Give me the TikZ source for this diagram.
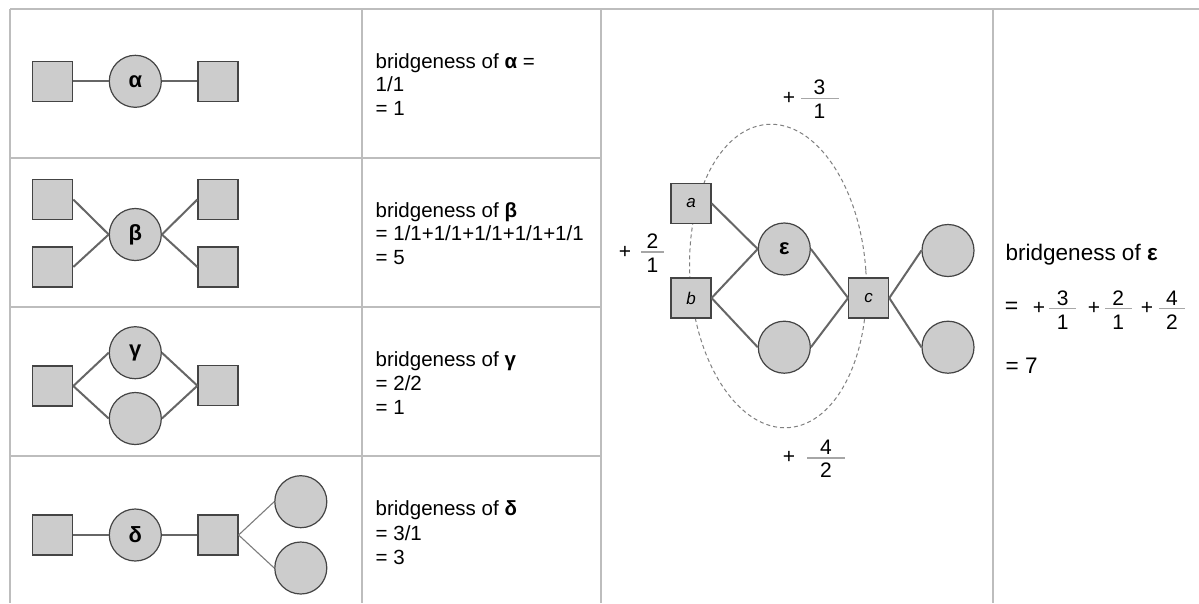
\documentclass[tikz,border=0pt]{standalone}
\usepackage{fontspec}
\setmainfont{Liberation Sans}
\definecolor{nodefill}{HTML}{CCCCCC}
\definecolor{nodeborder}{HTML}{444444}
\definecolor{edgecol}{HTML}{666666}
\definecolor{gridcol}{HTML}{BDBDBD}
\definecolor{dashcol}{HTML}{808080}
\definecolor{fraccol}{HTML}{A6A6A6}
\begin{document}
\begin{tikzpicture}[x=1pt,y=-1pt,
  sq/.style={rectangle,draw=nodeborder,fill=nodefill,line width=1.2pt,minimum size=40pt,inner sep=0pt,font=\fontsize{17}{19}\selectfont\itshape},
  circ/.style={circle,draw=nodeborder,fill=nodefill,line width=1.2pt,minimum size=52pt,inner sep=0pt,font=\fontsize{22}{26}\selectfont\bfseries},
  link/.style={draw=edgecol,line width=2pt},
  thinlink/.style={draw=edgecol!85,line width=1.1pt},
  gridline/.style={draw=gridcol,line width=1.5pt},
  txt/.style={anchor=base west,inner sep=0pt,font=\fontsize{20.5}{24}\selectfont},
  bigtxt/.style={anchor=base west,inner sep=0pt,font=\fontsize{22.5}{26}\selectfont},
  num/.style={inner sep=0pt,font=\fontsize{21}{25}\selectfont},
  fracbar/.style={draw=fraccol,line width=1.2pt},
  ring/.style={draw=dashcol,dash pattern=on 4pt off 3pt,line width=1pt}
]
\fill[white] (0,0) rectangle (1199,603);
\useasboundingbox (0,0) rectangle (1199,603);

% table grid
\draw[gridline] (10,9) -- (1199,9);
\draw[gridline] (10,9) -- (10,603);
\draw[gridline] (362,9) -- (362,603);
\draw[gridline] (601,9) -- (601,603);
\draw[gridline] (993,9) -- (993,603);
\draw[gridline] (10,158) -- (601,158);
\draw[gridline] (10,307) -- (601,307);
\draw[gridline] (10,456) -- (601,456);

% ---- row alpha
\node[sq] (a1) at (52.7,81.3) {};
\node[circ] (al) at (135.3,81.3) {α};
\node[sq] (a2) at (218,81.3) {};
\draw[link] (a1.east) -- (al.west);
\draw[link] (al.east) -- (a2.west);
\node[txt] (ta1) at (375.5,68.3) {bridgeness of \textbf{α} =};
\node[txt] (ta2) at (375.5,91.6) {1/1};
\node[txt] (ta3) at (375.5,115) {= 1};

% ---- row beta
\node[sq] (b1) at (52.7,199.5) {};
\node[sq] (b2) at (52.7,267) {};
\node[circ] (be) at (135.3,234.5) {β};
\node[sq] (b3) at (218,199.5) {};
\node[sq] (b4) at (218,267) {};
\draw[link] (b1.east) -- (be.west);
\draw[link] (b2.east) -- (be.west);
\draw[link] (be.east) -- (b3.west);
\draw[link] (be.east) -- (b4.west);
\node[txt] (tb1) at (375.5,217.3) {bridgeness of \textbf{β}};
\node[txt] (tb2) at (375.5,240.8) {= 1/1+1/1+1/1+1/1+1/1};
\node[txt] (tb3) at (375.5,264.5) {= 5};

% ---- row gamma
\node[sq] (g1) at (52.7,386) {};
\node[circ] (ga) at (135.3,352.7) {γ};
\node[circ] (g0) at (135.3,418.5) {};
\node[sq] (g2) at (218,385.7) {};
\draw[link] (g1.east) -- (ga.west);
\draw[link] (g1.east) -- (g0.west);
\draw[link] (ga.east) -- (g2.west);
\draw[link] (g0.east) -- (g2.west);
\node[txt] (tg1) at (375.5,366.6) {bridgeness of \textbf{γ}};
\node[txt] (tg2) at (375.5,390.2) {= 2/2};
\node[txt] (tg3) at (375.5,414) {= 1};

% ---- row delta
\node[sq] (d1) at (52.7,535) {};
\node[circ] (de) at (135.3,535) {δ};
\node[sq] (d2) at (218,535) {};
\node[circ] (d3) at (300.8,501.7) {};
\node[circ] (d4) at (300.8,568) {};
\draw[link] (d1.east) -- (de.west);
\draw[link] (de.east) -- (d2.west);
\draw[thinlink] (d2.east) -- (d3.west);
\draw[thinlink] (d2.east) -- (d4.west);
\node[txt] (td1) at (375.5,515.6) {bridgeness of \textbf{δ}};
\node[txt] (td2) at (375.5,540) {= 3/1};
\node[txt] (td3) at (375.5,564) {= 3};

% ---- big example (epsilon)
\draw[ring, rotate around={4:(778,276)}] (778,276) ellipse [x radius=88pt, y radius=152pt];
\node[sq] (na) at (691,203.4) {a};
\node[sq] (nb) at (691,298) {b};
\node[circ] (ep) at (784.3,249) {ε};
\node[circ] (e0) at (784.3,347.2) {};
\node[sq] (nc) at (868.7,298) {c};
\node[circ] (r1) at (948,250.5) {};
\node[circ] (r2) at (948,347.2) {};
\draw[link] (na.east) -- (ep.west);
\draw[link] (nb.east) -- (ep.west);
\draw[link] (nb.east) -- (e0.west);
\draw[link] (ep.east) -- (nc.west);
\draw[link] (e0.east) -- (nc.west);
\draw[link] (nc.east) -- (r1.west);
\draw[link] (nc.east) -- (r2.west);

% fraction labels around the ellipse
\node[num] (p1) at (789,98.5) {+};
\node[num] (p1n) at (819.5,86.8) {3};
\node[num] (p1d) at (819.5,110.8) {1};
\coordinate (p1l) at (801,98.5);
\coordinate (p1r) at (839,98.5);
\draw[fracbar] (p1l) -- (p1r);

\node[num] (p2) at (625,252) {+};
\node[num] (p2n) at (652.5,241.5) {2};
\node[num] (p2d) at (652.5,265.5) {1};
\coordinate (p2l) at (641,252);
\coordinate (p2r) at (664,252);
\draw[fracbar] (p2l) -- (p2r);

\node[num] (p3) at (789,457.6) {+};
\node[num] (p3n) at (826,447) {4};
\node[num] (p3d) at (826,470.5) {2};
\coordinate (p3l) at (807,458);
\coordinate (p3r) at (844.5,458);
\draw[fracbar] (p3l) -- (p3r);

% right column text
\node[bigtxt] (te1) at (1005.5,260) {bridgeness of \textbf{ε}};
\node[num,font=\fontsize{23}{26}\selectfont] (eq) at (1011.7,308.3) {=};
\node[num] (q1p) at (1039,308.3) {+};
\node[num] (q1n) at (1062.7,298.3) {3};
\node[num] (q1d) at (1062.7,322.5) {1};
\coordinate (q1l) at (1049,308.3);
\coordinate (q1r) at (1076,308.3);
\draw[fracbar] (q1l) -- (q1r);
\node[num] (q2p) at (1094,308.3) {+};
\node[num] (q2n) at (1118.3,298.3) {2};
\node[num] (q2d) at (1118.3,322.5) {1};
\coordinate (q2l) at (1105,308.3);
\coordinate (q2r) at (1132,308.3);
\draw[fracbar] (q2l) -- (q2r);
\node[num] (q3p) at (1147,308.3) {+};
\node[num] (q3n) at (1172,298.3) {4};
\node[num] (q3d) at (1172,322.5) {2};
\coordinate (q3l) at (1159,308.3);
\coordinate (q3r) at (1185,308.3);
\draw[fracbar] (q3l) -- (q3r);
\node[bigtxt] (te3) at (1005.5,373.5) {= 7};
\end{tikzpicture}
\end{document}
